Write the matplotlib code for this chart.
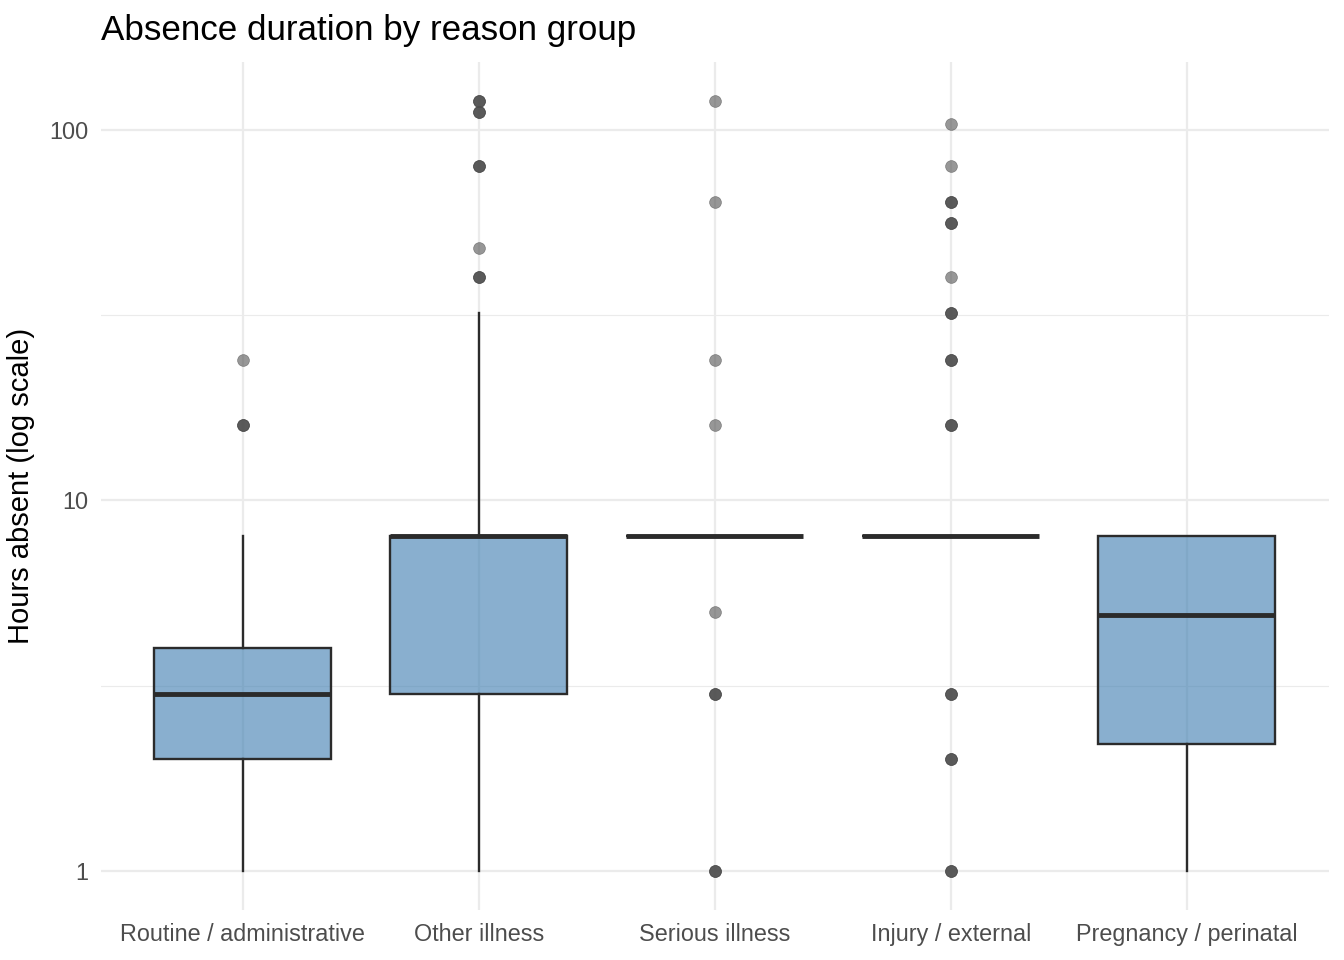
import numpy as np
import matplotlib
matplotlib.use("Agg")
import matplotlib.pyplot as plt
from matplotlib.ticker import FixedLocator, NullFormatter

plt.rcParams['font.family'] = ['Liberation Sans', 'DejaVu Sans']

# ---- data ----
categories = ["Routine / administrative", "Other illness", "Serious illness",
              "Injury / external", "Pregnancy / perinatal"]
whislo = [1, 1, 8, 8, 1]
q1 = [2, 3, 8, 8, 2.2]
med = [3, 8, 8, 8, 4.9]
q3 = [4, 8, 8, 8, 8]
whishi = [8, 32, 8, 8, 8]

out_routine = [16, 16, 16, 24]
out_other = [40, 40, 40, 48, 80, 80, 80, 112, 112, 112, 120, 120, 120]
out_serious = [1, 1, 1, 3, 3, 3, 5, 16, 24, 64, 120]
out_injury = [1, 1, 1, 2, 2, 2, 3, 3, 3, 16, 16, 16, 24, 24, 24, 32, 32, 32,
              40, 56, 56, 56, 64, 64, 64, 80, 104]
out_pregnancy = []
outliers = [out_routine, out_other, out_serious, out_injury, out_pregnancy]

y_major = [1, 10, 100]
y_major_labels = ["1", "10", "100"]

title = "Absence duration by reason group"
ylabel = "Hours absent (log scale)"

# ---- figure ----
fig = plt.figure(figsize=(13.44, 9.6), dpi=100)
ax = fig.add_axes([0.0751, 0.0526, 0.9885 - 0.0751, 0.9354 - 0.0526])

stats = []
for i, c in enumerate(categories):
    stats.append(dict(label=c, whislo=whislo[i], q1=q1[i], med=med[i],
                      q3=q3[i], whishi=whishi[i], fliers=[]))

positions = np.arange(1, len(categories) + 1)
edge = '#2b2b2b'
bp = ax.bxp(stats, positions=positions, widths=0.75, patch_artist=True,
            showcaps=False, showfliers=False,
            boxprops=dict(facecolor=(70/255, 130/255, 180/255, 0.64), edgecolor=edge, linewidth=1.7),
            whiskerprops=dict(color=edge, linewidth=1.7),
            medianprops=dict(color=edge, linewidth=3.5, solid_capstyle='butt'),
            zorder=3)

for i, vals in enumerate(outliers):
    if len(vals):
        ax.plot(np.full(len(vals), positions[i]), vals, 'o', color='#4d4d4d',
                alpha=0.58, markersize=8.5, markeredgewidth=0.5,
                markeredgecolor='#4d4d4d', zorder=4, linestyle='none')

# scales
ax.set_yscale('log')
all_vals = np.concatenate([np.array(whislo, float), np.array(whishi, float)] +
                          [np.array(v, float) for v in outliers if len(v)])
lo, hi = np.log10(all_vals.min()), np.log10(all_vals.max())
pad = 0.05 * (hi - lo)
ax.set_ylim(10 ** (lo - pad), 10 ** (hi + pad))
ax.set_xlim(0.4, len(categories) + 0.6)

ax.yaxis.set_major_locator(FixedLocator(y_major))
ax.set_yticklabels(y_major_labels)
ax.yaxis.set_minor_locator(FixedLocator([10 ** 0.5, 10 ** 1.5]))
ax.yaxis.set_minor_formatter(NullFormatter())
ax.set_xticks(positions)
ax.set_xticklabels(categories)

ax.grid(True, which='major', color='#ebebeb', linewidth=1.6, zorder=0)
ax.grid(True, which='minor', axis='y', color='#ebebeb', linewidth=0.8, zorder=0)
ax.set_axisbelow(True)
for s in ax.spines.values():
    s.set_visible(False)
ax.tick_params(axis='both', which='both', length=0, labelsize=16.8, labelcolor='#4d4d4d')
ax.tick_params(axis='x', pad=9.5)
ax.tick_params(axis='y', pad=9)

ax.set_ylabel(ylabel, fontsize=21, color='black', labelpad=10)
fig.text(0.0751, 0.968, title, fontsize=25.2, ha='left', va='center', color='black')

fig.savefig("out.png", dpi=100, facecolor='white')
